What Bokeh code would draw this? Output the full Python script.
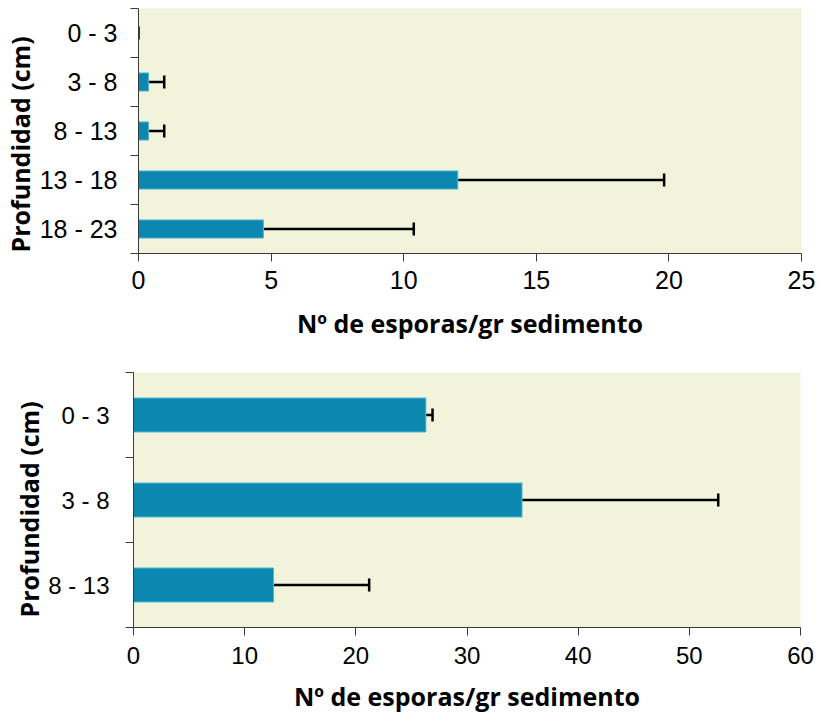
from bokeh.plotting import figure
from bokeh.models import Range1d, FixedTicker, Whisker, TeeHead, ColumnDataSource, Title
from bokeh.embed import file_html
from bokeh.resources import INLINE

# Spore density per depth layer, two cores
depth_a = ["0 - 3", "3 - 8", "8 - 13", "13 - 18", "18 - 23"]
mean_a = [0.0, 0.38, 0.38, 12.04, 4.71]
sd_a = [0.0, 0.59, 0.59, 7.78, 5.67]
ticks_a = [0, 5, 10, 15, 20, 25]

depth_b = ["0 - 3", "3 - 8", "8 - 13"]
mean_b = [26.3, 34.95, 12.6]
sd_b = [0.6, 17.65, 8.6]
ticks_b = [0, 10, 20, 30, 40, 50, 60]

x_title = "Nº de esporas/gr sedimento"
y_title = "Profundidad (cm)"

BAR = "#0b87b0"
BAR_EDGE = "#5ab5cf"
BG = "#f1f4da"
AXIS = "#3a3a3a"
TICK_FONT = "Liberation Sans"
TITLE_FONT = "Open Sans"


def make_panel(cats, means, sds, xticks, height, border, bar_h, tick_size,
               title_size, label_standoff, title_offset, x_label_standoff,
               x_title_standoff):
    n = len(cats)
    centers = [i + 0.5 for i in range(n)]
    src = ColumnDataSource(dict(
        y=centers, right=means, upper=[m + s for m, s in zip(means, sds)],
    ))
    p = figure(width=818, height=height,
               x_range=Range1d(xticks[0], xticks[-1]),
               y_range=Range1d(n, 0),
               output_backend="svg", toolbar_location=None,
               min_border_left=border[0], min_border_right=border[1],
               min_border_top=border[2], min_border_bottom=border[3])
    p.background_fill_color = BG
    p.border_fill_color = "white"
    p.outline_line_color = None
    p.xgrid.visible = False
    p.ygrid.visible = False

    p.hbar(y="y", left=0, right="right", height=bar_h, source=src,
           fill_color=BAR, line_color=BAR_EDGE, line_width=1)
    w = Whisker(source=src, base="y", lower="right", upper="upper",
                dimension="width", line_color="black", line_width=2.5,
                lower_head=None,
                upper_head=TeeHead(size=13, line_color="black", line_width=2.5))
    p.add_layout(w)

    xa = p.xaxis[0]
    xa.ticker = FixedTicker(ticks=xticks)
    xa.major_tick_out = 8
    xa.major_tick_in = 0
    xa.minor_tick_out = 0
    xa.axis_line_color = AXIS
    xa.major_tick_line_color = AXIS
    xa.major_label_text_font = TICK_FONT
    xa.major_label_text_font_size = f"{tick_size}px"
    xa.major_label_text_color = "black"
    xa.major_label_standoff = x_label_standoff
    xa.axis_label = x_title
    xa.axis_label_text_font = TITLE_FONT
    xa.axis_label_text_font_style = "bold"
    xa.axis_label_text_font_size = f"{title_size}px"
    xa.axis_label_text_color = "black"
    xa.axis_label_standoff = x_title_standoff

    ya = p.yaxis[0]
    ya.ticker = FixedTicker(ticks=centers, minor_ticks=list(range(n + 1)))
    ya.major_label_overrides = {c: lab for c, lab in zip(centers, cats)}
    ya.major_tick_out = 0
    ya.major_tick_in = 0
    ya.minor_tick_out = 8
    ya.minor_tick_in = 0
    ya.axis_line_color = AXIS
    ya.minor_tick_line_color = AXIS
    ya.major_label_text_font = TICK_FONT
    ya.major_label_text_font_size = f"{tick_size}px"
    ya.major_label_text_color = "black"
    ya.major_label_standoff = label_standoff

    # vertical axis title, anchored near the bottom of the frame
    t = Title(text=y_title, align="left", offset=title_offset, standoff=0,
              text_font=TITLE_FONT, text_font_style="bold",
              text_font_size=f"{title_size}px", text_color="black")
    p.add_layout(t, "left")
    return p


top = make_panel(depth_a, mean_a, sd_a, ticks_a, height=348,
                 border=(137, 17, 8, 95), bar_h=0.37, tick_size=25,
                 title_size=25, label_standoff=13, title_offset=1,
                 x_label_standoff=9, x_title_standoff=14)
bottom = make_panel(depth_b, mean_b, sd_b, ticks_b, height=370,
                    border=(133, 18, 24, 91), bar_h=0.4, tick_size=24,
                    title_size=25, label_standoff=16, title_offset=10,
                    x_label_standoff=11, x_title_standoff=12)

open("out.html", "w").write(file_html([top, bottom], INLINE))
